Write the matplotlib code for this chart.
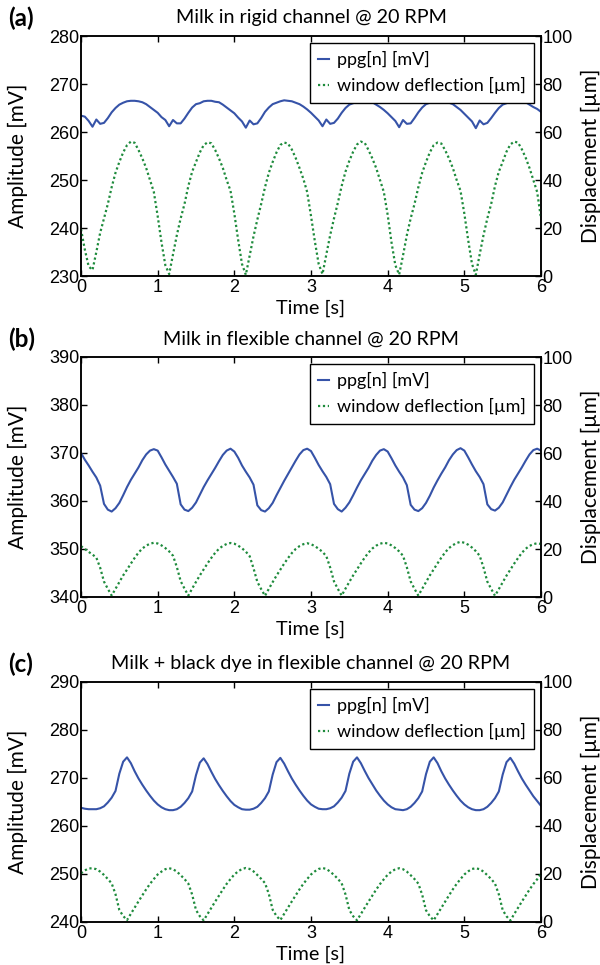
import numpy as np
import matplotlib
matplotlib.use("Agg")
import matplotlib.pyplot as plt

# ---------------- data ----------------
time_s = [round(0.05 * i, 2) for i in range(121)]

ppg_a = [263.4, 263.2, 262.3, 261.1, 262.6, 261.7, 261.9, 262.9, 264.1, 265.0, 265.7, 266.1, 266.4, 266.5, 266.5, 266.4, 266.2, 265.8, 265.2, 264.6,
         264.0, 263.1, 262.5, 261.2, 262.5, 261.8, 261.8, 262.8, 264.0, 265.1, 265.8, 266.0, 266.4, 266.5, 266.5, 266.3, 266.2, 265.7, 265.1, 264.5,
         263.9, 263.0, 262.2, 260.9, 262.4, 261.6, 261.8, 262.9, 264.2, 265.1, 265.8, 266.1, 266.4, 266.6, 266.5, 266.4, 266.1, 265.8, 265.3, 264.7,
         264.0, 263.2, 262.4, 261.2, 262.6, 261.7, 261.9, 262.8, 264.0, 265.0, 265.7, 266.0, 266.3, 266.5, 266.5, 266.4, 266.2, 265.7, 265.2, 264.6,
         263.9, 263.1, 262.3, 261.0, 262.5, 261.7, 261.8, 262.9, 264.1, 265.1, 265.8, 266.1, 266.4, 266.5, 266.5, 266.4, 266.1, 265.8, 265.2, 264.6,
         263.8, 263.0, 262.2, 260.8, 262.4, 261.6, 261.9, 262.9, 264.0, 265.0, 265.7, 266.0, 266.3, 266.4, 266.4, 266.3, 266.2, 265.7, 265.2, 264.8,
         264.2]
defl_a = [19.5, 11.0, 4.0, 2.5, 10.0, 18.0, 24.0, 30.0, 37.0, 43.0, 47.5, 51.5, 54.5, 56.0, 55.5, 52.5, 49.0, 45.0, 40.0, 35.0,
          25.0, 14.0, 4.5, 0.8, 9.0, 17.0, 24.0, 30.0, 37.5, 43.5, 47.5, 51.5, 54.5, 55.7, 55.3, 52.5, 49.0, 45.0, 40.0, 35.5,
          26.0, 15.0, 5.0, 0.5, 8.5, 16.5, 23.5, 30.0, 37.0, 43.0, 47.5, 51.5, 54.6, 55.6, 55.2, 52.7, 49.2, 45.0, 40.5, 35.0,
          25.0, 14.5, 5.0, 0.8, 9.0, 17.0, 24.0, 30.5, 37.5, 43.5, 48.0, 51.8, 54.8, 56.0, 55.5, 52.5, 49.0, 45.0, 40.0, 35.0,
          25.5, 14.0, 4.5, 0.6, 8.5, 17.0, 24.0, 30.0, 37.0, 43.0, 47.5, 51.5, 54.5, 55.6, 55.2, 52.4, 49.0, 45.0, 40.0, 35.5,
          26.0, 15.0, 5.0, 0.5, 9.0, 17.0, 24.0, 30.0, 37.5, 43.5, 47.5, 51.8, 54.8, 56.0, 55.6, 52.8, 49.3, 45.0, 40.0, 35.0,
          24.0]

ppg_b = [370.0, 368.6, 367.4, 366.1, 364.9, 363.2, 359.4, 358.2, 357.8, 358.5, 359.6, 361.2, 362.9, 364.4, 365.7, 367.0, 368.5, 369.7, 370.5, 370.8,
         370.5, 369.1, 367.6, 366.3, 365.0, 363.6, 359.3, 358.2, 357.9, 358.6, 359.7, 361.3, 362.9, 364.3, 365.6, 366.9, 368.3, 369.6, 370.5, 370.9,
         370.3, 369.0, 367.4, 366.1, 364.9, 363.4, 359.1, 358.1, 357.8, 358.5, 359.6, 361.2, 362.7, 364.2, 365.6, 367.0, 368.4, 369.7, 370.6, 370.9,
         370.4, 369.0, 367.5, 366.2, 365.0, 363.5, 359.4, 358.3, 357.8, 358.6, 359.7, 361.2, 362.8, 364.3, 365.6, 366.9, 368.4, 369.6, 370.5, 370.8,
         370.3, 368.9, 367.4, 366.1, 364.9, 363.3, 359.2, 358.2, 357.9, 358.5, 359.6, 361.1, 362.8, 364.3, 365.7, 367.0, 368.5, 369.7, 370.6, 371.0,
         370.5, 369.1, 367.6, 366.2, 365.0, 363.5, 359.3, 358.3, 358.0, 358.6, 359.7, 361.3, 362.9, 364.4, 365.7, 367.0, 368.4, 369.7, 370.6, 370.9,
         370.5]
defl_b = [21.2, 20.0, 18.8, 17.7, 16.4, 12.2, 6.4, 3.4, 0.6, 3.4, 6.2, 9.0, 11.4, 13.9, 16.3, 18.5, 20.2, 21.4, 22.2, 22.6,
          22.3, 21.5, 20.4, 19.0, 17.2, 12.5, 6.6, 3.5, 0.6, 3.5, 6.3, 9.0, 11.5, 14.0, 16.3, 18.4, 20.1, 21.3, 22.1, 22.5,
          22.2, 21.4, 20.3, 18.9, 17.0, 12.0, 6.3, 3.3, 0.5, 3.4, 6.2, 8.9, 11.4, 13.9, 16.2, 18.3, 20.0, 21.2, 22.0, 22.4,
          22.0, 21.2, 20.1, 18.8, 17.0, 12.3, 6.5, 3.4, 0.6, 3.5, 6.3, 9.0, 11.5, 14.0, 16.4, 18.5, 20.2, 21.4, 22.2, 22.6,
          22.3, 21.5, 20.4, 19.0, 17.2, 12.4, 6.5, 3.4, 0.6, 3.4, 6.2, 9.0, 11.5, 14.0, 16.4, 18.6, 20.4, 21.6, 22.5, 23.0,
          22.6, 21.8, 20.6, 19.1, 17.2, 12.3, 6.4, 3.4, 0.5, 3.3, 6.1, 8.9, 11.4, 13.9, 16.2, 18.4, 20.1, 21.3, 22.0, 22.4,
          22.1]

ppg_c = [263.8, 263.6, 263.5, 263.5, 263.5, 263.7, 264.1, 264.9, 265.9, 267.3, 270.9, 273.4, 274.3, 273.1, 271.4, 269.9, 268.6, 267.4, 266.3, 265.3,
         264.5, 263.9, 263.5, 263.3, 263.3, 263.5, 264.0, 264.8, 265.8, 267.2, 270.6, 273.2, 274.1, 272.9, 271.3, 269.8, 268.5, 267.3, 266.2, 265.2,
         264.4, 263.9, 263.5, 263.4, 263.4, 263.6, 264.0, 264.8, 265.8, 267.2, 270.7, 273.3, 274.2, 273.0, 271.4, 269.9, 268.6, 267.4, 266.3, 265.3,
         264.5, 264.0, 263.6, 263.5, 263.5, 263.7, 264.1, 264.9, 265.9, 267.3, 270.9, 273.4, 274.3, 273.1, 271.5, 270.0, 268.7, 267.4, 266.3, 265.3,
         264.5, 263.9, 263.5, 263.4, 263.3, 263.5, 264.0, 264.8, 265.8, 267.2, 270.8, 273.4, 274.3, 273.1, 271.4, 269.9, 268.6, 267.4, 266.3, 265.3,
         264.5, 263.9, 263.5, 263.3, 263.3, 263.5, 264.0, 264.8, 265.8, 267.2, 270.7, 273.3, 274.2, 273.0, 271.4, 269.9, 268.6, 267.4, 266.2, 265.2,
         264.2]
defl_c = [20.3, 21.5, 22.3, 22.4, 22.0, 21.0, 19.6, 17.9, 16.1, 11.6, 5.0, 2.5, 0.8, 3.4, 6.0, 8.6, 11.1, 13.6, 15.9, 17.9,
          19.8, 21.0, 22.0, 22.4, 22.0, 21.0, 19.5, 17.9, 16.0, 11.4, 5.0, 2.4, 0.7, 3.3, 5.9, 8.5, 11.0, 13.5, 15.9, 17.9,
          19.8, 21.1, 22.1, 22.5, 22.1, 21.1, 19.6, 18.0, 16.2, 11.7, 5.1, 2.5, 0.8, 3.4, 6.0, 8.6, 11.1, 13.6, 15.9, 17.9,
          19.8, 21.1, 22.1, 22.5, 22.1, 21.0, 19.6, 18.0, 16.1, 11.5, 5.0, 2.4, 0.7, 3.3, 5.9, 8.5, 11.0, 13.5, 15.8, 17.8,
          19.7, 21.0, 22.0, 22.4, 22.0, 21.0, 19.5, 17.9, 16.0, 11.4, 4.9, 2.4, 0.7, 3.3, 5.9, 8.5, 11.1, 13.6, 15.9, 17.9,
          19.8, 21.1, 22.1, 22.4, 22.0, 21.0, 19.5, 17.9, 16.0, 11.5, 5.0, 2.4, 0.6, 3.3, 5.9, 8.5, 11.0, 13.5, 15.8, 17.8,
          20.3]

panel_letters = ["(a)", "(b)", "(c)"]
titles = ["Milk in rigid channel @ 20 RPM",
          "Milk in flexible channel @ 20 RPM",
          "Milk + black dye in flexible channel @ 20 RPM"]
left_ylims = [(230, 280), (340, 390), (240, 290)]
left_yticks = [[230, 240, 250, 260, 270, 280],
               [340, 350, 360, 370, 380, 390],
               [240, 250, 260, 270, 280, 290]]
right_yticks = [0, 20, 40, 60, 80, 100]
x_ticks = [0, 1, 2, 3, 4, 5, 6]
ppg_series = [ppg_a, ppg_b, ppg_c]
defl_series = [defl_a, defl_b, defl_c]
legend_labels = ["ppg[n] [mV]", "window deflection [\u00b5m]"]

# ---------------- styling ----------------
BLUE = "#3653A8"
GREEN = "#1E8B3C"
LABEL_FONT = ["Lato", "DejaVu Sans"]
TICK_FONT = ["Liberation Sans", "DejaVu Sans"]

W, H = 600, 965
fig = plt.figure(figsize=(W / 100, H / 100), dpi=100)

tops_px = [36, 357, 682]
ax_left_px, ax_w_px, ax_h_px = 81, 460, 240

for i in range(3):
    top = tops_px[i]
    bottom = top + ax_h_px
    ax = fig.add_axes([ax_left_px / W, (H - bottom) / H, ax_w_px / W, ax_h_px / H])
    ax2 = ax.twinx()

    l1, = ax.plot(time_s, ppg_series[i], color=BLUE, lw=1.5, solid_joinstyle="round")
    l2, = ax2.plot(time_s, defl_series[i], color=GREEN, lw=1.6,
                   linestyle=(0, (1.0, 1.2)))

    ax.set_xlim(0, 6)
    ax.set_ylim(*left_ylims[i])
    ax2.set_ylim(0, 100)
    ax.set_xticks(x_ticks)
    ax.set_yticks(left_yticks[i])
    ax2.set_yticks(right_yticks)

    for a in (ax, ax2):
        for sp in a.spines.values():
            sp.set_linewidth(1.1)
            sp.set_color("black")
    ax.tick_params(axis="both", direction="in", length=4, width=1.0,
                   labelsize=13, pad=2, top=True, right=False)
    ax.tick_params(axis="y", pad=1)
    ax2.tick_params(axis="y", direction="in", length=4, width=1.0,
                    labelsize=13, pad=1, right=True, left=False)
    for lab in ax.get_xticklabels() + ax.get_yticklabels() + ax2.get_yticklabels():
        lab.set_fontfamily(TICK_FONT)

    ax.set_ylabel("Amplitude [mV]", fontsize=15, family=LABEL_FONT)
    ax.yaxis.set_label_coords(-0.115, 0.5)
    ax2.set_ylabel("Displacement [\u00b5m]", fontsize=15, family=LABEL_FONT,
                   rotation=90)
    ax2.yaxis.set_label_coords(1.087, 0.5)
    ax.set_xlabel("Time [s]", fontsize=14.3, family=LABEL_FONT)
    ax.xaxis.set_label_coords(0.5, -0.098)

    leg = ax2.legend([l1, l2], legend_labels, loc="upper right",
                     prop={"family": LABEL_FONT, "size": 13},
                     frameon=True, fancybox=False, framealpha=1,
                     edgecolor="black", handlelength=0.6, handletextpad=0.45,
                     borderpad=0.45, labelspacing=0.5, borderaxespad=0.4)
    leg.get_frame().set_linewidth(1.0)

    # title and panel letter
    cy = (H - (top - 18)) / H
    fig.text((ax_left_px + ax_w_px / 2) / W, cy, titles[i], ha="center", va="center",
             fontsize=14.2, family=LABEL_FONT)
    fig.text(8 / W, cy, panel_letters[i], ha="left", va="center",
             fontsize=17.5, fontweight="bold", family=LABEL_FONT)

fig.savefig("out.png", dpi=100)
